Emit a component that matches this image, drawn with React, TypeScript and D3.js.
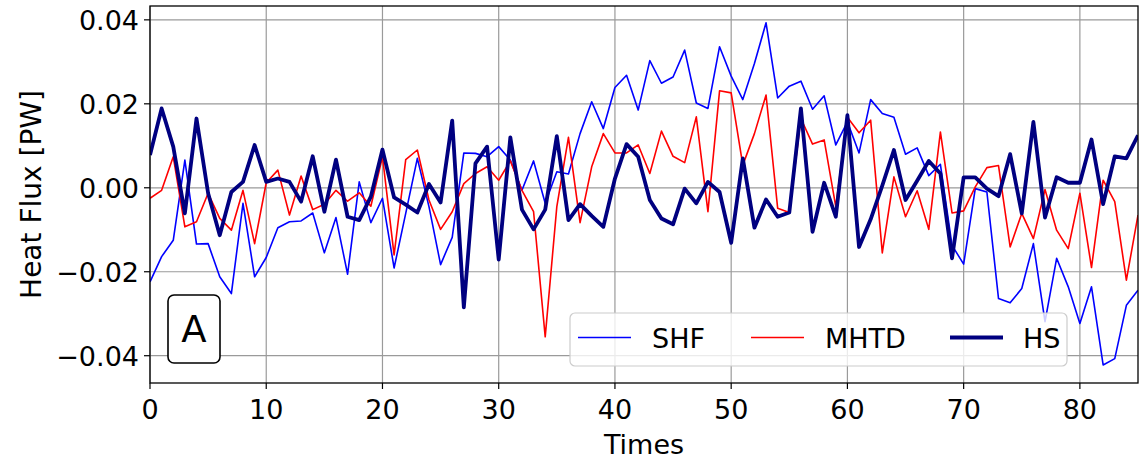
import React from "react";
import * as d3 from "d3";

const times: number[] = d3.range(0, 86);

const shf: number[] = [
  -0.0224, -0.0164, -0.0125, 0.0066, -0.0134, -0.0133, -0.0212, -0.0252, -0.0037, -0.0212,
  -0.0166, -0.0095, -0.0081, -0.0079, -0.006, -0.0155, -0.0071, -0.0206, 0.0014, -0.0083,
  -0.0025, -0.0191, -0.0061, 0.007, -0.0045, -0.0183, -0.0118, 0.0083, 0.0082, 0.0074,
  0.0098, 0.0066, -0.0006, 0.0064, -0.0037, 0.0038, 0.0033, 0.0129, 0.0205, 0.0141,
  0.0239, 0.0268, 0.0185, 0.0303, 0.0249, 0.0264, 0.0328, 0.0202, 0.0189, 0.0336,
  0.0266, 0.021, 0.0296, 0.0393, 0.0214, 0.0242, 0.0254, 0.0187, 0.0219, 0.0102,
  0.0157, 0.0083, 0.021, 0.0177, 0.0168, 0.008, 0.0095, 0.0029, 0.0056, -0.0137,
  -0.0182, -0.0002, -0.001, -0.0264, -0.0274, -0.024, -0.0133, -0.0319, -0.0168, -0.0236,
  -0.0323, -0.0236, -0.0422, -0.0407, -0.028, -0.0244,
];

const mhtd: number[] = [
  -0.0025, -0.0006, 0.0074, -0.0093, -0.0081, -0.0013, -0.0073, -0.0101, -0.0006, -0.0133,
  0.0012, 0.0042, -0.0065, 0.0028, -0.0052, -0.0039, -0.0006, -0.0032, -0.0012, -0.0044,
  0.0074, -0.016, 0.0067, 0.009, -0.0029, -0.0099, -0.0057, 0.001, 0.0034, 0.005,
  0.0018, 0.0064, -0.0006, -0.0057, -0.0355, -0.0045, 0.012, -0.0083, 0.005, 0.0129,
  0.0083, 0.0083, 0.0102, 0.0034, 0.0135, 0.0075, 0.006, 0.0169, -0.0057, 0.0231,
  0.0226, 0.0054, 0.0129, 0.0221, -0.0049, -0.0059, 0.0165, 0.0104, 0.0114, -0.0045,
  0.0168, 0.0131, 0.0161, -0.0155, 0.0026, -0.0069, -0.0007, -0.0099, 0.0133, -0.006,
  -0.0055, 0.0002, 0.0048, 0.0053, -0.0141, -0.0061, -0.0121, -0.0004, -0.0101, -0.0145,
  -0.0013, -0.019, 0.0018, -0.0033, -0.022, -0.0065,
];

const hs: number[] = [
  0.0078, 0.0189, 0.0098, -0.0061, 0.0165, -0.0013, -0.0113, -0.001, 0.0014, 0.0102,
  0.0014, 0.0022, 0.0014, -0.0033, 0.0075, -0.0057, 0.0067, -0.0069, -0.0077, -0.0021,
  0.0091, -0.0023, -0.004, -0.0059, 0.0009, -0.0035, 0.016, -0.0285, 0.0058, 0.0098,
  -0.0171, 0.012, -0.0052, -0.0099, -0.0052, 0.0123, -0.0077, -0.0039, -0.0067, -0.0093,
  0.0022, 0.0104, 0.0074, -0.0029, -0.0073, -0.0087, -0.0002, -0.0037, 0.0014, -0.001,
  -0.0131, 0.007, -0.0095, -0.0028, -0.0069, -0.0059, 0.0189, -0.0105, 0.0012, -0.0069,
  0.0173, -0.0141, -0.0075, 0.0005, 0.009, -0.0029, 0.0017, 0.0064, 0.0034, -0.0168,
  0.0025, 0.0025, -0.0002, -0.002, 0.008, -0.0061, 0.0157, -0.0071, 0.0025, 0.0012,
  0.0012, 0.0115, -0.0039, 0.0075, 0.007, 0.0125,
];

const xTicks: number[] = [0, 10, 20, 30, 40, 50, 60, 70, 80];
const yTicks: number[] = [-0.04, -0.02, 0, 0.02, 0.04];
const seriesNames: string[] = ["SHF", "MHTD", "HS"];
const seriesColors: string[] = ["#0000ff", "#ff0000", "#000080"];
const seriesWidths: number[] = [1.6, 1.6, 3.8];

const W = 1140;
const H = 460;
const L = 150;
const R = 1138;
const T = 6;
const B = 383;
const FONT = "'DejaVu Sans', sans-serif";

export default function App() {
  const x = d3.scaleLinear().domain([0, 85]).range([L, R]);
  const y = d3.scaleLinear().domain([-0.0465, 0.0433]).range([B, T]);
  const allSeries = [shf, mhtd, hs];
  const line = d3
    .line<number>()
    .x((_, i) => x(times[i]))
    .y((d) => y(d));
  const fmtY = (v: number) => {
    const s = Math.abs(v).toFixed(2);
    return v < -1e-9 ? "\u2212" + s : s;
  };

  const legendX0 = 570;
  const legendY0 = 313;
  const legendLineStarts = [578, 751, 950];
  const legendTextStarts = [652, 825, 1023];
  const legendLineY = 337.5;

  return (
    <svg
      width={W}
      height={H}
      style={{ position: "absolute", left: 0, top: 0, background: "#fff" }}
      fontFamily={FONT}
    >
      <defs>
        <clipPath id="plotclip">
          <rect x={L} y={T} width={R - L} height={B - T} />
        </clipPath>
      </defs>
      <rect x={0} y={0} width={W} height={H} fill="#fff" />
      {/* grid */}
      {xTicks.map((t) => (
        <line key={"gx" + t} x1={x(t)} x2={x(t)} y1={T} y2={B} stroke="#9a9a9a" strokeWidth={1.2} />
      ))}
      {yTicks.map((t) => (
        <line key={"gy" + t} x1={L} x2={R} y1={y(t)} y2={y(t)} stroke="#9a9a9a" strokeWidth={1.2} />
      ))}
      {/* lines */}
      <g clipPath="url(#plotclip)">
        {allSeries.map((s, k) => (
          <path
            key={seriesNames[k]}
            d={line(s) || ""}
            fill="none"
            stroke={seriesColors[k]}
            strokeWidth={seriesWidths[k]}
            strokeLinejoin="round"
          />
        ))}
      </g>
      {/* label box A */}
      <rect x={168} y={295} width={52} height={68} rx={6} ry={6} fill="#fff" stroke="#000" strokeWidth={1.6} />
      <text x={194} y={342} textAnchor="middle" fontSize={37} fill="#000">
        A
      </text>
      {/* legend */}
      <rect
        x={legendX0}
        y={legendY0}
        width={497}
        height={53}
        rx={5}
        ry={5}
        fill="#fff"
        fillOpacity={0.8}
        stroke="#cccccc"
        strokeWidth={1.2}
      />
      {seriesNames.map((n, k) => (
        <g key={"lg" + n}>
          <line
            x1={legendLineStarts[k]}
            x2={legendLineStarts[k] + 53}
            y1={legendLineY}
            y2={legendLineY}
            stroke={seriesColors[k]}
            strokeWidth={seriesWidths[k]}
          />
          <text x={legendTextStarts[k]} y={legendLineY + 10} fontSize={27} fill="#000">
            {n}
          </text>
        </g>
      ))}
      {/* spines */}
      <rect x={L} y={T} width={R - L} height={B - T} fill="none" stroke="#000" strokeWidth={1.3} />
      {/* x ticks */}
      {xTicks.map((t) => (
        <g key={"xt" + t}>
          <line x1={x(t)} x2={x(t)} y1={B} y2={B + 6} stroke="#000" strokeWidth={1.2} />
          <text x={x(t)} y={419} textAnchor="middle" fontSize={27} fill="#000">
            {t}
          </text>
        </g>
      ))}
      {/* y ticks */}
      {yTicks.map((t) => (
        <g key={"yt" + t}>
          <line x1={L - 6} x2={L} y1={y(t)} y2={y(t)} stroke="#000" strokeWidth={1.2} />
          <text x={139} y={y(t) + 10} textAnchor="end" fontSize={27} fill="#000">
            {fmtY(t)}
          </text>
        </g>
      ))}
      {/* axis labels */}
      <text x={(L + R) / 2} y={454} textAnchor="middle" fontSize={27} fill="#000">
        Times
      </text>
      <text
        transform={`translate(41, ${(T + B) / 2}) rotate(-90)`}
        textAnchor="middle"
        fontSize={28}
        fill="#000"
      >
        Heat Flux [PW]
      </text>
    </svg>
  );
}
